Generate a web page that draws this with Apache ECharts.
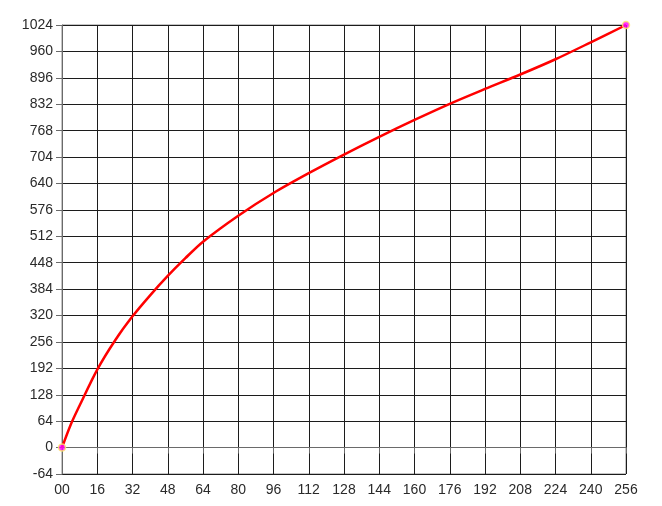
<!DOCTYPE html>
<html>
<head>
<meta charset="utf-8">
<script src="https://cdn.jsdelivr.net/npm/echarts@6/dist/echarts.min.js"></script>
<style>
html,body{margin:0;padding:0;background:#fff;}
#chart{width:662px;height:506px;}
</style>
</head>
<body>
<div id="chart"></div>
<script>
// Data
var xValues = [0, 4, 8, 16, 24, 32, 40, 48, 56, 64, 80, 96, 112, 128, 144, 160, 176, 192, 208, 224, 240, 256];
var yValues = [0, 56, 102, 189, 259, 318, 369, 416, 459, 499, 562, 617, 665, 710, 753, 794, 833, 869, 904, 941, 982, 1024];
var xTickValues = [0, 16, 32, 48, 64, 80, 96, 112, 128, 144, 160, 176, 192, 208, 224, 240, 256];
var xTickLabels = ['00', '16', '32', '48', '64', '80', '96', '112', '128', '144', '160', '176', '192', '208', '224', '240', '256'];
var yTickValues = [-64, 0, 64, 128, 192, 256, 320, 384, 448, 512, 576, 640, 704, 768, 832, 896, 960, 1024];

var curve = xValues.map(function (x, i) { return [x, yValues[i]]; });
var endPoints = [curve[0], curve[curve.length - 1]];

var chart = echarts.init(document.getElementById('chart'), null, {renderer: 'canvas'});
var lineColor = '#1c1c1c';
chart.setOption({
  animation: false,
  backgroundColor: '#ffffff',
  grid: {left: 62, right: 36, top: 25, bottom: 32, show: true, borderColor: '#8a8a8a', borderWidth: 1},
  xAxis: {
    type: 'value', min: 0, max: 256, interval: 16,
    axisLine: {show: true, lineStyle: {color: '#6a6a6a', width: 1}},
    axisTick: {show: true, length: 6, lineStyle: {color: '#6a6a6a'}},
    splitLine: {show: true, lineStyle: {color: lineColor, width: 1}},
    axisLabel: {
      margin: 9, color: '#2a2a2a', fontFamily: 'Liberation Sans, Arial, sans-serif', fontSize: 14,
      formatter: function (v) { var i = xTickValues.indexOf(v); return i >= 0 ? xTickLabels[i] : ''; }
    }
  },
  yAxis: {
    type: 'value', min: -64, max: 1024, interval: 64,
    axisLine: {show: true, lineStyle: {color: '#6a6a6a', width: 1}},
    axisTick: {show: true, length: 6, lineStyle: {color: '#6a6a6a'}},
    splitLine: {show: true, lineStyle: {color: lineColor, width: 1}},
    axisLabel: {
      margin: 9, color: '#2a2a2a', fontFamily: 'Liberation Sans, Arial, sans-serif', fontSize: 14,
      formatter: function (v) { return yTickValues.indexOf(v) >= 0 ? String(v) : ''; }
    }
  },
  series: [
    {
      type: 'line', data: curve, smooth: 0.3, symbol: 'none',
      lineStyle: {color: '#ff0000', width: 2.5}
    },
    {
      type: 'scatter', data: endPoints, symbol: 'circle', symbolSize: 7,
      itemStyle: {color: '#ff00ff', borderColor: '#ffee66', borderWidth: 1.5},
      z: 5
    }
  ]
});
</script>
</body>
</html>
